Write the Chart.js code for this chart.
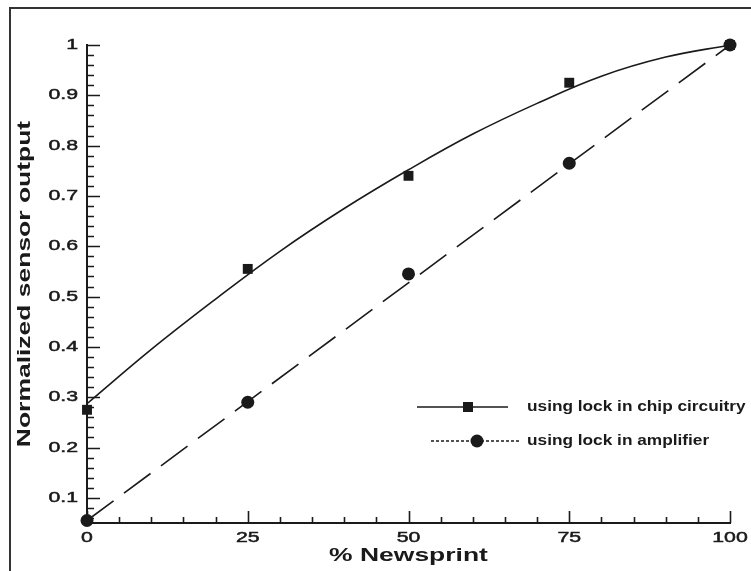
<!DOCTYPE html>
<html>
<head>
<meta charset="utf-8">
<script src="https://cdn.jsdelivr.net/npm/chart.js@4.4.1/dist/chart.umd.min.js"></script>
<style>
  html, body { margin: 0; padding: 0; background: #fff; }
  #wrap { width: 751px; height: 571px; position: relative; }
</style>
</head>
<body>
<div id="wrap"><canvas id="sensorChart" width="751" height="571"></canvas></div>
<script>
// measured points
var newsprint = [0, 25, 50, 75, 100];
var chipOutput = [0.275, 0.555, 0.74, 0.925, 1.0];
var ampOutput = [0.055, 0.29, 0.545, 0.765, 1.0];

// fitted curves
var chipFitX = [0, 10, 20, 30, 40, 50, 60, 70, 80, 90, 100];
var chipFitY = [0.287, 0.395, 0.495, 0.59, 0.675, 0.752, 0.823, 0.884, 0.938, 0.976, 1.0];
var ampFitX = [0, 100];
var ampFitY = [0.055, 1.0];

var xTickLabels = [0, 25, 50, 75, 100];
var yTickLabels = [0.1, 0.2, 0.3, 0.4, 0.5, 0.6, 0.7, 0.8, 0.9, 1];

var legendLabels = ['using lock in chip circuitry', 'using lock in amplifier'];
var xTitle = '% Newsprint';
var yTitle = 'Normalized sensor output';

function pairs(xs, ys) {
    return xs.map(function (x, i) { return {x: x, y: ys[i]}; });
}

var ink = '#1a1a1a';

function wideText(ctx, text, x, y, sx, align, heavy) {
    ctx.save();
    ctx.translate(x, y);
    ctx.scale(sx, 1);
    ctx.textAlign = align;
    ctx.fillText(text, 0, 0);
    if (heavy) {
        ctx.lineWidth = heavy;
        ctx.strokeStyle = ctx.fillStyle;
        ctx.strokeText(text, 0, 0);
    }
    ctx.restore();
}

// frame, inward ticks, labels and legend
var decorations = {
    id: 'decorations',
    beforeDraw: function (chart) {
        var ctx = chart.ctx;
        ctx.save();
        ctx.fillStyle = '#fff';
        ctx.fillRect(0, 0, chart.width, chart.height);
        ctx.strokeStyle = '#333';
        ctx.lineWidth = 2;
        ctx.beginPath();
        ctx.moveTo(10, chart.height + 5);
        ctx.lineTo(10, 8);
        ctx.lineTo(chart.width + 5, 8);
        ctx.stroke();
        ctx.restore();
    },
    beforeDatasetsDraw: function (chart) {
        var ctx = chart.ctx;
        var xs = chart.scales.x, ys = chart.scales.y;
        var area = chart.chartArea;
        ctx.save();
        ctx.strokeStyle = ink;
        ctx.lineWidth = 1.6;
        ctx.beginPath();
        for (var v = 0; v <= 100; v += 5) {
            var px = Math.round(xs.getPixelForValue(v)) + 0.5;
            var len = (v % 25 === 0) ? 12 : 6;
            ctx.moveTo(px, area.bottom);
            ctx.lineTo(px, area.bottom - len);
        }
        for (var k = 3; k <= 50; k++) {
            var val = k / 50;
            var py = Math.round(ys.getPixelForValue(val)) + 0.5;
            var l = (k % 5 === 0) ? 13 : 7;
            ctx.moveTo(area.left, py);
            ctx.lineTo(area.left + l, py);
        }
        ctx.stroke();
        ctx.restore();
    },
    afterDraw: function (chart) {
        var ctx = chart.ctx;
        var xs = chart.scales.x, ys = chart.scales.y;
        var area = chart.chartArea;
        ctx.save();
        ctx.fillStyle = ink;
        ctx.textBaseline = 'middle';

        // tick labels
        ctx.font = '15px "Liberation Sans", Arial, sans-serif';
        xTickLabels.forEach(function (t) {
            wideText(ctx, String(t), xs.getPixelForValue(t), area.bottom + 15, 1.42, 'center', 0.5);
        });
        yTickLabels.forEach(function (t) {
            wideText(ctx, String(t), area.left - 9, ys.getPixelForValue(t), 1.42, 'right', 0.5);
        });

        // axis titles
        ctx.font = 'bold 18px "Liberation Sans", Arial, sans-serif';
        wideText(ctx, xTitle, (area.left + area.right) / 2, 556, 1.47, 'center');
        ctx.save();
        ctx.translate(25, (area.top + area.bottom) / 2);
        ctx.rotate(-Math.PI / 2);
        wideText(ctx, yTitle, 0, 0, 1.47, 'center');
        ctx.restore();

        // legend
        ctx.strokeStyle = ink;
        ctx.lineWidth = 1.4;
        ctx.beginPath();
        ctx.moveTo(417, 407);
        ctx.lineTo(508, 407);
        ctx.stroke();
        ctx.fillRect(463, 402, 10, 10);

        ctx.setLineDash([3, 2]);
        ctx.beginPath();
        ctx.moveTo(431, 441);
        ctx.lineTo(519, 441);
        ctx.stroke();
        ctx.setLineDash([]);
        ctx.beginPath();
        ctx.arc(477, 441, 6.5, 0, Math.PI * 2);
        ctx.fill();

        ctx.font = 'bold 15px "Liberation Sans", Arial, sans-serif';
        wideText(ctx, legendLabels[0], 527, 407, 1.15, 'left');
        wideText(ctx, legendLabels[1], 527, 441, 1.15, 'left');
        ctx.restore();
    }
};

var ctx = document.getElementById('sensorChart').getContext('2d');
new Chart(ctx, {
    type: 'scatter',
    data: {
        datasets: [
            {
                label: legendLabels[1],
                data: pairs(newsprint, ampOutput),
                pointStyle: 'circle',
                pointRadius: 6.5,
                backgroundColor: ink,
                borderColor: ink,
                borderWidth: 0,
                showLine: false
            },
            {
                label: legendLabels[0],
                data: pairs(newsprint, chipOutput),
                pointStyle: 'rect',
                pointRadius: 7,
                backgroundColor: ink,
                borderColor: ink,
                borderWidth: 0,
                showLine: false
            },
            {
                label: 'chip fit',
                data: pairs(chipFitX, chipFitY),
                showLine: true,
                pointRadius: 0,
                borderColor: ink,
                borderWidth: 1.6,
                tension: 0.4,
                fill: false
            },
            {
                label: 'amplifier fit',
                data: pairs(ampFitX, ampFitY),
                showLine: true,
                pointRadius: 0,
                borderColor: ink,
                borderWidth: 1.6,
                borderDash: [33, 13],
                fill: false
            }
        ]
    },
    options: {
        responsive: false,
        animation: false,
        clip: false,
        layout: {padding: {left: 0, top: 45, right: 21, bottom: 0}},
        plugins: {legend: {display: false}, tooltip: {enabled: false}},
        scales: {
            x: {
                type: 'linear', min: 0, max: 100,
                grid: {display: false, drawTicks: false},
                border: {display: true, color: ink, width: 2},
                ticks: {display: false},
                afterFit: function (scale) { scale.height = 48; }
            },
            y: {
                type: 'linear', min: 0.05, max: 1,
                grid: {display: false, drawTicks: false},
                border: {display: true, color: ink, width: 2},
                ticks: {display: false},
                afterFit: function (scale) { scale.width = 87; }
            }
        }
    },
    plugins: [decorations]
});
</script>
</body>
</html>
